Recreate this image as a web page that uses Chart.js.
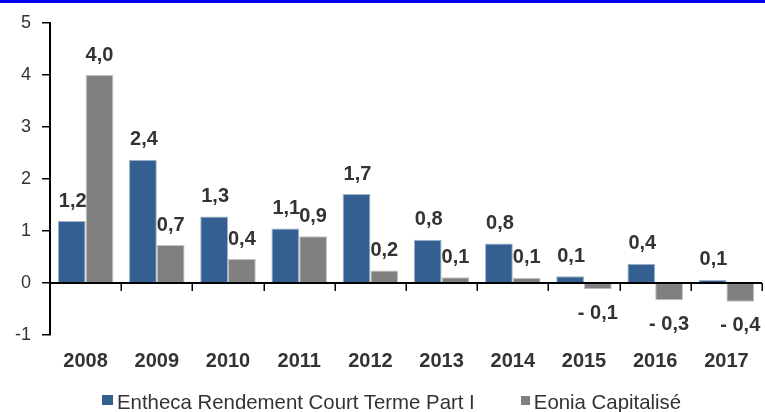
<!DOCTYPE html>
<html><head><meta charset="utf-8">
<script src="https://cdn.jsdelivr.net/npm/chart.js@4"></script>
<style>
html,body{margin:0;padding:0;background:#fff;overflow:hidden;}
#wrap{position:relative;width:765px;height:412px;}
canvas{position:absolute;left:0;top:0;}
#legend{position:absolute;top:392px;left:102px;font-family:"Liberation Sans",Arial,sans-serif;font-size:20.4px;line-height:20.4px;color:#333;white-space:nowrap;}
#legend .box{display:inline-block;vertical-align:4px;margin-right:4px;}
#legend .sep{display:inline-block;width:46px;}
</style></head>
<body>
<div id="wrap"><canvas id="c" width="765" height="412"></canvas><div id="legend"></div></div>
<script>
const categories = ['2008','2009','2010','2011','2012','2013','2014','2015','2016','2017'];
const seriesNames = ['Entheca Rendement Court Terme Part I','Eonia Capitalisé'];
const enthecaValues = [1.19, 2.37, 1.28, 1.05, 1.71, 0.83, 0.76, 0.13, 0.37, 0.06];
const eoniaValues = [4.00, 0.73, 0.46, 0.90, 0.24, 0.11, 0.10, -0.12, -0.33, -0.36];
const enthecaLabels = ['1,2','2,4','1,3','1,1','1,7','0,8','0,8','0,1','0,4','0,1'];
const eoniaLabels = ['4,0','0,7','0,4','0,9','0,2','0,1','0,1','- 0,1','- 0,3','- 0,4'];
const yTicks = [-1, 0, 1, 2, 3, 4, 5];

const colors = ['#345f91', '#808080'];
const labelSets = [enthecaLabels, eoniaLabels];
const FONT = '"Liberation Sans", Arial, sans-serif';

// HTML legend
const legendEl = document.getElementById('legend');
const boxSizes = [[11,10],[9,9]];
seriesNames.forEach((name, i) => {
  if (i > 0) { const s = document.createElement('span'); s.className = 'sep'; legendEl.appendChild(s); }
  const b = document.createElement('span');
  b.className = 'box';
  b.style.width = boxSizes[i][0] + 'px';
  b.style.height = boxSizes[i][1] + 'px';
  b.style.background = colors[i];
  legendEl.appendChild(b);
  const t = document.createElement('span');
  t.textContent = name;
  legendEl.appendChild(t);
});

const decor = {
  id: 'decor',
  beforeDraw(c) {
    const ctx = c.ctx;
    ctx.save(); ctx.fillStyle = '#fff'; ctx.fillRect(0, 0, c.width, c.height); ctx.restore();
  },
  afterDatasetsDraw(c) {
    const ctx = c.ctx, a = c.chartArea, y = c.scales.y;
    const y0 = y.getPixelForValue(0);
    ctx.save();
    ctx.strokeStyle = '#000';
    ctx.lineWidth = 2;
    ctx.beginPath(); ctx.moveTo(a.left, y0); ctx.lineTo(a.right, y0); ctx.stroke();
    const n = categories.length, w = (a.right - a.left) / n;
    ctx.lineWidth = 1.5;
    ctx.beginPath();
    for (let i = 0; i <= n; i++) {
      const px = Math.round(a.left + i * w) + 0.25;
      ctx.moveTo(px, y0); ctx.lineTo(px, y0 + 8);
    }
    ctx.stroke();
    ctx.font = 'bold 20px ' + FONT;
    ctx.fillStyle = '#333';
    ctx.textAlign = 'center';
    ctx.textBaseline = 'middle';
    c.data.datasets.forEach((ds, di) => {
      const meta = c.getDatasetMeta(di);
      meta.data.forEach((bar, i) => {
        const v = ds.data[i];
        const ty = v >= 0 ? bar.y - 20 : bar.y + 24;
        ctx.fillText(labelSets[di][i], bar.x + (di === 0 ? 1 : 0), ty);
      });
    });
    ctx.fillStyle = '#0000f5';
    ctx.fillRect(0, 0, c.width, 3);
    ctx.restore();
  }
};

new Chart(document.getElementById('c'), {
  type: 'bar',
  data: {
    labels: categories,
    datasets: [
      { label: seriesNames[0], data: enthecaValues, backgroundColor: colors[0], borderColor: '#9fb3cc', borderWidth: 1, categoryPercentage: 0.78, barPercentage: 1 },
      { label: seriesNames[1], data: eoniaValues, backgroundColor: colors[1], borderColor: '#c2c2c2', borderWidth: 1, categoryPercentage: 0.78, barPercentage: 1 }
    ]
  },
  options: {
    responsive: false,
    devicePixelRatio: 1,
    animation: false,
    layout: { padding: { top: 23, right: 3, left: 0, bottom: 37 } },
    plugins: { legend: { display: false }, tooltip: { enabled: false } },
    scales: {
      x: {
        grid: { display: false },
        border: { display: false },
        ticks: { font: { family: FONT, size: 20, weight: 'bold' }, color: '#333', padding: 6, maxRotation: 0, autoSkip: false },
        afterFit(s) { s.height = 40; }
      },
      y: {
        min: yTicks[0], max: yTicks[yTicks.length - 1],
        afterBuildTicks(s) { s.ticks = yTicks.map(v => ({ value: v })); },
        ticks: { font: { family: FONT, size: 18 }, color: '#333', padding: 11 },
        grid: { drawOnChartArea: false, drawTicks: true, tickLength: 8, color: '#000', lineWidth: 1.5 },
        border: { display: true, color: '#000', width: 2 },
        afterFit(s) { s.width = 50; }
      }
    }
  },
  plugins: [decor]
});
</script>
</body></html>
